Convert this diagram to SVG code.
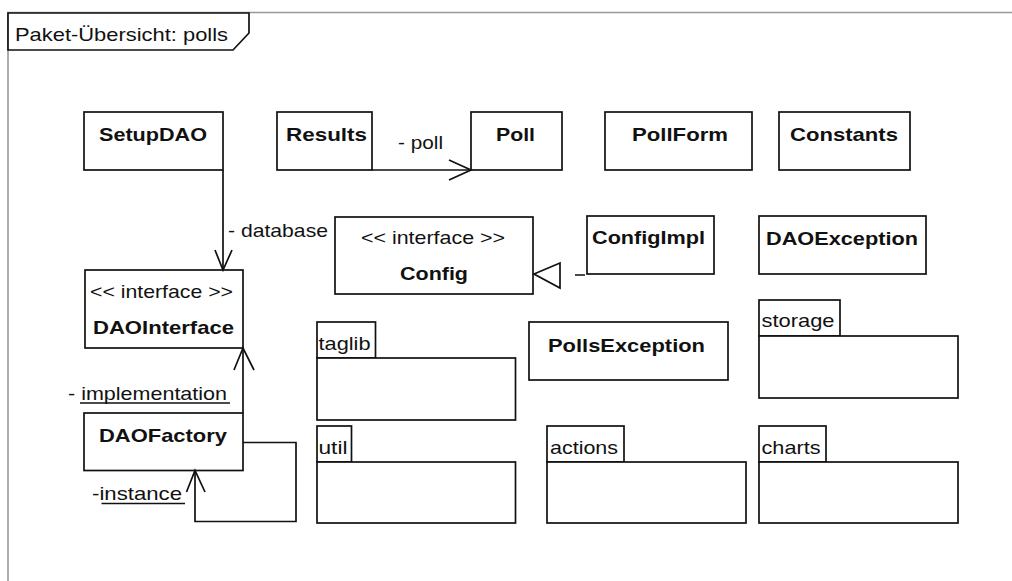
<svg xmlns="http://www.w3.org/2000/svg" width="1012" height="581" viewBox="0 0 1012 581">
  <style>
    .box { fill: #fff; stroke: #111; stroke-width: 1.7; }
    .frame { fill: none; stroke: #999; stroke-width: 1.6; }
    .edge { fill: none; stroke: #111; stroke-width: 1.7; }
    .head { fill: none; stroke: #111; stroke-width: 1.7; stroke-linejoin: miter; }
    .tri { fill: #fff; stroke: #111; stroke-width: 1.7; }
    text { font-family: "Liberation Sans", Arial, sans-serif; font-size: 19px; fill: #111; }
    .b { font-weight: bold; }
    .u { fill: none; stroke: #111; stroke-width: 1.4; }
  </style>

  <rect width="1012" height="581" fill="#fff"/>

  <!-- package frame with its name tab -->
  <g id="frame">
    <path class="frame" d="M8,581 V12.5 H1012"/>
    <path class="box" d="M8,13 H249 V33 L233,50 H8 Z"/>
    <text x="15" y="40.5" textLength="213" lengthAdjust="spacingAndGlyphs">Paket-Übersicht: polls</text>
  </g>

  <!-- classes -->
  <g id="SetupDAO">
    <rect class="box" x="84" y="112" width="139" height="58"/>
    <text class="b" x="99" y="140.5" textLength="108" lengthAdjust="spacingAndGlyphs">SetupDAO</text>
  </g>
  <g id="Results">
    <rect class="box" x="277" y="112" width="95" height="58"/>
    <text class="b" x="286" y="140.5" textLength="81" lengthAdjust="spacingAndGlyphs">Results</text>
  </g>
  <g id="Poll">
    <rect class="box" x="471" y="112" width="91" height="58"/>
    <text class="b" x="496" y="140.5" textLength="39" lengthAdjust="spacingAndGlyphs">Poll</text>
  </g>
  <g id="PollForm">
    <rect class="box" x="605" y="112" width="147" height="58"/>
    <text class="b" x="632" y="140.5" textLength="96" lengthAdjust="spacingAndGlyphs">PollForm</text>
  </g>
  <g id="Constants">
    <rect class="box" x="779" y="112" width="131" height="58"/>
    <text class="b" x="790" y="140.5" textLength="108" lengthAdjust="spacingAndGlyphs">Constants</text>
  </g>
  <g id="Config">
    <rect class="box" x="335" y="217" width="198" height="77"/>
    <text x="361" y="243.5" textLength="144" lengthAdjust="spacingAndGlyphs">&lt;&lt; interface &gt;&gt;</text>
    <text class="b" x="400" y="280" textLength="68" lengthAdjust="spacingAndGlyphs">Config</text>
  </g>
  <g id="ConfigImpl">
    <rect class="box" x="587" y="216" width="127" height="58"/>
    <text class="b" x="592" y="244" textLength="113" lengthAdjust="spacingAndGlyphs">ConfigImpl</text>
  </g>
  <g id="DAOException">
    <rect class="box" x="759" y="216" width="167" height="58"/>
    <text class="b" x="766" y="244.5" textLength="152" lengthAdjust="spacingAndGlyphs">DAOException</text>
  </g>
  <g id="DAOInterface">
    <rect class="box" x="85" y="270" width="158" height="78"/>
    <text x="90" y="297.5" textLength="143" lengthAdjust="spacingAndGlyphs">&lt;&lt; interface &gt;&gt;</text>
    <text class="b" x="93" y="333.5" textLength="141" lengthAdjust="spacingAndGlyphs">DAOInterface</text>
  </g>
  <g id="DAOFactory">
    <rect class="box" x="84" y="413" width="159" height="57.5"/>
    <text class="b" x="99" y="441.5" textLength="128" lengthAdjust="spacingAndGlyphs">DAOFactory</text>
  </g>
  <g id="PollsException">
    <rect class="box" x="529" y="322" width="199" height="58"/>
    <text class="b" x="548" y="351.5" textLength="157" lengthAdjust="spacingAndGlyphs">PollsException</text>
  </g>

  <!-- sub-packages -->
  <g id="taglib">
    <rect class="box" x="317" y="322" width="58.5" height="36"/>
    <rect class="box" x="317" y="358" width="198.5" height="62"/>
    <text x="318.5" y="349.5" textLength="52" lengthAdjust="spacingAndGlyphs">taglib</text>
  </g>
  <g id="util">
    <rect class="box" x="317" y="426" width="34.5" height="36"/>
    <rect class="box" x="317" y="462" width="198.5" height="61"/>
    <text x="318.5" y="453.5" textLength="29" lengthAdjust="spacingAndGlyphs">util</text>
  </g>
  <g id="actions">
    <rect class="box" x="547" y="426" width="77" height="36"/>
    <rect class="box" x="547" y="462" width="199" height="61"/>
    <text x="550" y="453.5" textLength="68" lengthAdjust="spacingAndGlyphs">actions</text>
  </g>
  <g id="storage">
    <rect class="box" x="759" y="300" width="81" height="36"/>
    <rect class="box" x="759" y="336" width="199" height="62"/>
    <text x="761.5" y="326.5" textLength="73" lengthAdjust="spacingAndGlyphs">storage</text>
  </g>
  <g id="charts">
    <rect class="box" x="759" y="426" width="67" height="36"/>
    <rect class="box" x="759" y="462" width="199" height="61"/>
    <text x="761.5" y="453.5" textLength="59" lengthAdjust="spacingAndGlyphs">charts</text>
  </g>

  <!-- associations and realization -->
  <g id="connectors">
    <!-- SetupDAO -> DAOInterface : database -->
    <path class="edge" d="M223,170 V270"/>
    <path class="head" d="M215,250 L223,270 L232,250"/>
    <text x="228" y="236.5" textLength="100" lengthAdjust="spacingAndGlyphs">- database</text>

    <!-- Results -> Poll : poll -->
    <path class="edge" d="M372,170 H471"/>
    <path class="head" d="M449,160 L471,170 L449,180"/>
    <text x="398" y="149" textLength="45" lengthAdjust="spacingAndGlyphs">- poll</text>

    <!-- ConfigImpl realizes Config -->
    <path class="edge" d="M560,275 H587" stroke-dasharray="0 15 10 2"/>
    <path class="tri" d="M534,274 L560,263 L560,288 Z"/>

    <!-- DAOFactory -> DAOInterface : implementation -->
    <path class="edge" d="M243,413 V348"/>
    <path class="head" d="M234,370 L243,348 L254,370"/>
    <text x="68" y="399.5" textLength="159" lengthAdjust="spacingAndGlyphs">- implementation</text>
    <path class="u" d="M80,403 H230"/>

    <!-- DAOFactory self association : instance -->
    <path class="edge" d="M243,442.5 H296 V521.5 H195 V470.5"/>
    <path class="head" d="M186.5,492 L195,470.5 L205,492"/>
    <text x="92" y="499.5" textLength="90" lengthAdjust="spacingAndGlyphs">-instance</text>
    <path class="u" d="M101.5,503.5 H185"/>
  </g>
</svg>
